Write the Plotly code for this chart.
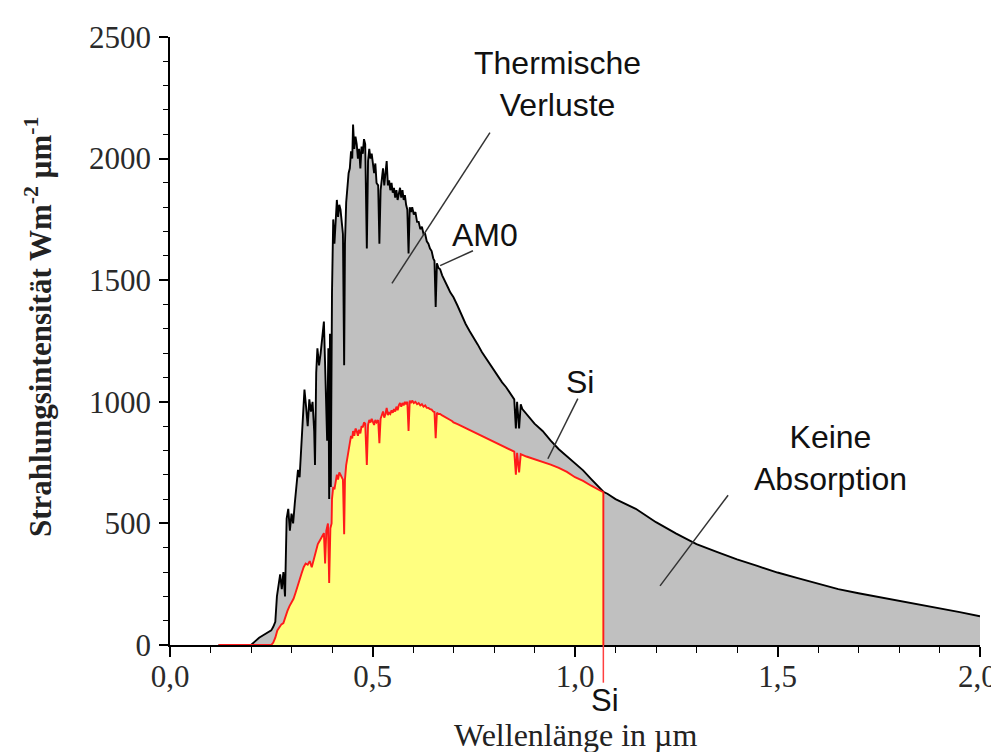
import plotly.graph_objects as go

# ---- data (wavelength in µm, intensity in W m^-2 µm^-1) ----
am0_wl = [0.12, 0.20, 0.21, 0.22, 0.23, 0.24, 0.25, 0.255, 0.26, 0.264, 0.268, 0.272, 0.276, 0.28,
          0.284, 0.288, 0.292, 0.296, 0.30, 0.304, 0.308, 0.312, 0.316, 0.32, 0.324, 0.328, 0.332,
          0.336, 0.34, 0.344, 0.348, 0.352, 0.356, 0.358, 0.361, 0.364, 0.368, 0.372, 0.376, 0.38,
          0.383, 0.386, 0.388, 0.391, 0.393, 0.395, 0.397, 0.40, 0.403, 0.406, 0.409, 0.412, 0.415,
          0.418, 0.421, 0.424, 0.427, 0.430, 0.432, 0.435, 0.438, 0.441, 0.444, 0.447, 0.450, 0.452,
          0.455, 0.458, 0.461, 0.464, 0.467, 0.470, 0.473, 0.476, 0.479, 0.482, 0.486, 0.489, 0.492,
          0.495, 0.498, 0.501, 0.504, 0.507, 0.510, 0.514, 0.517, 0.520, 0.523, 0.526, 0.529, 0.532,
          0.535, 0.538, 0.541, 0.544, 0.547, 0.550, 0.553, 0.556, 0.559, 0.562, 0.565, 0.568, 0.571,
          0.574, 0.577, 0.580, 0.583, 0.586, 0.589, 0.592, 0.595, 0.598, 0.602, 0.606, 0.610, 0.614,
          0.618, 0.622, 0.626, 0.630, 0.634, 0.638, 0.642, 0.646, 0.650, 0.653, 0.656, 0.659, 0.663,
          0.667, 0.672, 0.677, 0.682, 0.687, 0.692, 0.697, 0.70, 0.71, 0.72, 0.73, 0.74, 0.75, 0.76,
          0.77, 0.78, 0.79, 0.80, 0.81, 0.82, 0.83, 0.84, 0.85, 0.854, 0.857, 0.862, 0.866, 0.87,
          0.88, 0.89, 0.90, 0.92, 0.94, 0.96, 0.98, 1.00, 1.02, 1.04, 1.06, 1.07, 1.08, 1.10, 1.15,
          1.20, 1.25, 1.30, 1.35, 1.40, 1.45, 1.50, 1.55, 1.60, 1.65, 1.70, 1.75, 1.80, 1.85, 1.90,
          1.95, 2.00]
am0_val = [0, 0, 15, 30, 40, 50, 60, 75, 95, 200, 250, 290, 230, 300,
           200, 520, 560, 470, 540, 500, 580, 640, 720, 690, 800, 940, 1050,
           980, 900, 1010, 960, 1000, 880, 740, 1120, 1220, 1150, 1200, 1260, 1330,
           1150, 1000, 840, 1220, 600, 1280, 650, 1450, 1750, 1650, 1760, 1830, 1760,
           1810, 1790, 1720, 1690, 1150, 1650, 1820, 1900, 1940, 1960, 2030, 2000, 2140,
           2040, 2090, 2060, 2000, 2040, 1960, 2050, 2020, 2080, 2060, 1630, 1990, 2040,
           2000, 2020, 1970, 1940, 1980, 1900, 1890, 1650, 1870, 1920, 1960, 1890, 1930,
           1990, 1890, 1910, 1870, 1900, 1860, 1880, 1840, 1870, 1830, 1860, 1880, 1840,
           1870, 1830, 1850, 1810, 1790, 1610, 1800, 1780, 1800, 1770, 1780, 1740, 1740,
           1710, 1720, 1690, 1690, 1660, 1650, 1630, 1620, 1590, 1580, 1390, 1570, 1550,
           1545, 1520, 1500, 1485, 1468, 1450, 1440, 1430, 1395, 1355, 1320, 1290, 1265, 1235,
           1205, 1180, 1150, 1125, 1100, 1080, 1060, 1035, 1010, 890, 1000, 890, 990, 970,
           950, 930, 910, 880, 840, 805, 775, 745, 718, 682, 648, 630, 622, 600, 560,
           505, 458, 415, 383, 352, 325, 298, 275, 252, 230, 213, 198, 182, 167, 152,
           135, 118]

si_wl = [0.12, 0.25, 0.255, 0.26, 0.265, 0.27, 0.275, 0.28, 0.285, 0.29, 0.295, 0.30, 0.305, 0.31,
         0.315, 0.32, 0.325, 0.33, 0.335, 0.34, 0.345, 0.35, 0.355, 0.36, 0.365, 0.37, 0.375, 0.38,
         0.383, 0.386, 0.39, 0.393, 0.396, 0.399, 0.40, 0.403, 0.406, 0.409, 0.412, 0.415, 0.418,
         0.421, 0.424, 0.427, 0.430, 0.432, 0.435, 0.438, 0.441, 0.444, 0.447, 0.450, 0.452, 0.455,
         0.458, 0.461, 0.464, 0.467, 0.470, 0.473, 0.476, 0.479, 0.482, 0.486, 0.489, 0.492, 0.495,
         0.498, 0.501, 0.504, 0.507, 0.510, 0.514, 0.517, 0.520, 0.523, 0.526, 0.529, 0.532, 0.535,
         0.538, 0.541, 0.544, 0.547, 0.550, 0.553, 0.556, 0.559, 0.562, 0.565, 0.568, 0.571, 0.574,
         0.577, 0.580, 0.583, 0.586, 0.589, 0.592, 0.595, 0.598, 0.602, 0.606, 0.610, 0.614, 0.618,
         0.622, 0.626, 0.630, 0.634, 0.638, 0.642, 0.646, 0.650, 0.653, 0.656, 0.659, 0.663, 0.667,
         0.672, 0.677, 0.682, 0.687, 0.692, 0.697, 0.70, 0.71, 0.72, 0.73, 0.74, 0.76, 0.78, 0.80,
         0.82, 0.84, 0.85, 0.854, 0.857, 0.862, 0.866, 0.88, 0.90, 0.92, 0.94, 0.96, 0.98, 1.00,
         1.02, 1.04, 1.06, 1.07, 1.07]
si_val = [0, 0, 10, 30, 60, 75, 85, 90, 120, 140, 160, 175, 190, 215,
          245, 270, 295, 320, 335, 330, 345, 320, 350, 390, 415, 430, 445, 460,
          335, 470, 500, 255, 480, 500, 600, 650, 640, 680, 700, 680, 710,
          700, 690, 680, 455, 680, 740, 780, 800, 830, 860, 850, 880, 860,
          890, 880, 860, 885, 870, 900, 895, 915, 910, 740, 905, 925, 915,
          930, 915, 905, 925, 915, 925, 830, 930, 945, 960, 935, 950, 975,
          945, 955, 950, 965, 955, 970, 960, 980, 965, 985, 995, 980, 995,
          985, 1000, 990, 1000, 880, 1005, 995, 1005, 995, 1000, 990, 995, 985,
          990, 980, 985, 975, 975, 970, 968, 960, 958, 850, 955, 950, 950,
          944, 940, 935, 930, 925, 920, 915, 908, 900, 890, 883, 868, 852, 836,
          820, 805, 795, 700, 790, 710, 785, 775, 765, 755, 742, 728, 712, 690,
          675, 655, 636, 628, 0]

SI_GAP = 1.07  # Si absorption edge in µm

x_ticks = [0.0, 0.5, 1.0, 1.5, 2.0]
x_ticklabels = ["0,0", "0,5", "1,0", "1,5", "2,0"]
y_ticks = [0, 500, 1000, 1500, 2000, 2500]

# annotation pointer lines (data coordinates): (x0, y0, x1, y1)
pointers = [
    (0.790, 2107, 0.548, 1487),   # Thermische Verluste
    (0.748, 1621, 0.667, 1560),   # AM0
    (1.007, 1013, 0.933, 766),    # Si
    (1.378, 616, 1.210, 243),     # Keine Absorption
]

labels = [
    ("Thermische<br>Verluste", 0.958, 2305),
    ("AM0", 0.778, 1686),
    ("Si", 1.012, 1082),
    ("Keine<br>Absorption", 1.63, 770),
]

SANS = "Liberation Sans, Arial, sans-serif"
SERIF = "Liberation Serif, Times New Roman, serif"
TICKFONT = dict(family=SERIF, size=31, color="#2a2a2a")

fig = go.Figure()
fig.add_trace(go.Scatter(x=am0_wl, y=am0_val, mode="lines", fill="tozeroy",
                         fillcolor="#c0c0c0", line=dict(color="black", width=1.9),
                         hoverinfo="skip", showlegend=False))
fig.add_trace(go.Scatter(x=si_wl, y=si_val, mode="lines", fill="tozeroy",
                         fillcolor="#ffff80", line=dict(color="#ff1a1a", width=1.9),
                         hoverinfo="skip", showlegend=False))

shapes = []
for x0, y0, x1, y1 in pointers:
    shapes.append(dict(type="line", xref="x", yref="y", x0=x0, y0=y0, x1=x1, y1=y1,
                       line=dict(color="#333333", width=1.5)))
# red edge line continued below the axis
shapes.append(dict(type="line", xref="x", yref="paper", x0=SI_GAP, x1=SI_GAP, y0=0, y1=-0.062,
                   line=dict(color="#ff4040", width=1.5)))

annotations = []
for text, x, y in labels:
    annotations.append(dict(text=text, x=x, y=y, xref="x", yref="y", showarrow=False,
                            xanchor="center", yanchor="middle",
                            font=dict(family=SANS, size=32, color="#111111"), align="center"))
annotations.append(dict(text="Si", x=SI_GAP + 0.005, y=-0.0908, xref="x", yref="paper", showarrow=False,
                        xanchor="center", yanchor="middle",
                        font=dict(family=SANS, size=31, color="#111111")))
# last x tick label sits flush with the right edge of the figure (as in the reference)
annotations.append(dict(text=x_ticklabels[-1], x=1.0 + 19 / 810, y=-0.0519, xref="paper", yref="paper",
                        showarrow=False, xanchor="right", yanchor="middle", font=TICKFONT))
annotations.append(dict(text="Wellenlänge in µm", x=0.5, y=-0.1475, xref="paper", yref="paper",
                        showarrow=False, xanchor="center", yanchor="middle",
                        font=dict(family=SERIF, size=32, color="#222222")))
annotations.append(dict(text="<b>Strahlungsintensität Wm<sup>-2</sup> µm<sup>-1</sup></b>",
                        x=-0.163, y=0.523, xref="paper", yref="paper", showarrow=False, textangle=-90,
                        xanchor="center", yanchor="middle",
                        font=dict(family=SERIF, size=31, color="#222222")))

# the page body adds an 8 px offset, so the figure is sized/margined to compensate
fig.update_layout(
    width=991, height=744,
    margin=dict(l=162, r=19, t=20, b=107),
    paper_bgcolor="white", plot_bgcolor="white",
    shapes=shapes, annotations=annotations,
    xaxis=dict(range=[0, 2.0], tickvals=x_ticks, ticktext=x_ticklabels[:-1] + [""],
               showline=True, linecolor="black", linewidth=1.5,
               ticks="outside", ticklen=10, tickwidth=1.5, tickcolor="black",
               minor=dict(ticks="outside", ticklen=6, tickwidth=1, tickcolor="black",
                          tickmode="linear", tick0=0, dtick=0.1),
               showgrid=False, zeroline=False, ticklabelstandoff=-7,
               tickfont=TICKFONT),
    yaxis=dict(range=[0, 2500], tickvals=y_ticks, tickformat="d",
               showline=True, linecolor="black", linewidth=1.5,
               ticks="outside", ticklen=9, tickwidth=1.5, tickcolor="black",
               minor=dict(ticks="outside", ticklen=5, tickwidth=1, tickcolor="black",
                          tickmode="linear", tick0=0, dtick=100),
               showgrid=False, zeroline=False, ticklabelstandoff=2,
               tickfont=TICKFONT),
)

fig.write_html("out.html", config={"displayModeBar": False})
